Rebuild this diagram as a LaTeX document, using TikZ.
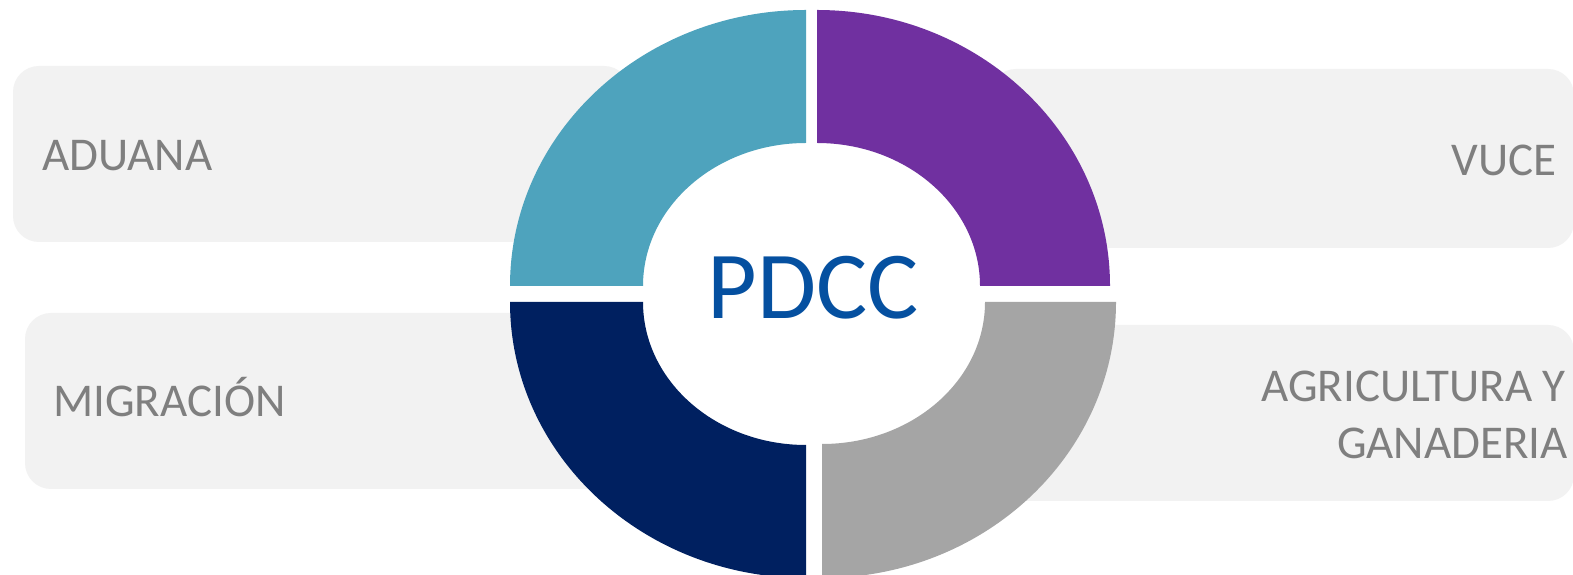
\documentclass[tikz,border=0pt]{standalone}
\usepackage{fontspec}
\setmainfont{Carlito}
\definecolor{qteal}{HTML}{4EA3BD}
\definecolor{qpurple}{HTML}{7030A0}
\definecolor{qnavy}{HTML}{002060}
\definecolor{qgray}{HTML}{A5A5A5}
\definecolor{boxfill}{HTML}{F2F2F2}
\definecolor{labelgray}{HTML}{7F7F7F}
\definecolor{pdccblue}{HTML}{0550A0}
\begin{document}
\begin{tikzpicture}[x=1pt,y=1pt,
  panel/.style={fill=boxfill, rounded corners=26pt},
  lab/.style={text=labelgray, font=\fontsize{47}{56}\selectfont, inner sep=0pt},
]
\clip (0,0) rectangle (1573,575);
\useasboundingbox (0,0) rectangle (1573,575);
\fill[white] (0,0) rectangle (1573,575);
% panels
\path[panel] (13,333) rectangle (630,509);
\path[panel] (990,327) rectangle (1574,506);
\path[panel] (25,86) rectangle (630,262);
\path[panel] (995,74) rectangle (1574,250);
% ring quadrants
\fill[qteal] (806,565) arc[start angle=90, end angle=180, x radius=296, y radius=276]
  -- (643,289) arc[start angle=180, end angle=90, x radius=163, y radius=143] -- cycle;
\fill[qpurple] (817,565) arc[start angle=90, end angle=0, x radius=293, y radius=276]
  -- (980,289) arc[start angle=0, end angle=90, x radius=163, y radius=143] -- cycle;
\fill[qnavy] (806,-3) arc[start angle=270, end angle=180, x radius=296, y radius=276]
  -- (643,273) arc[start angle=180, end angle=270, x radius=163, y radius=143] -- cycle;
\fill[qgray] (822,-3) arc[start angle=270, end angle=360, x radius=294, y radius=276]
  -- (985,273) arc[start angle=0, end angle=-90, x radius=163, y radius=142] -- cycle;
% labels
\node[lab, anchor=base west] (aduana) at (42,404) {ADUANA};
\node[lab, anchor=base east] (vuce) at (1557,399) {VUCE};
\node[lab, anchor=base west] (migr) at (53,158) {MIGRACIÓN};
\node[lab, anchor=base east] (agr1) at (1566,173) {AGRICULTURA Y};
\node[lab, anchor=base east] (agr2) at (1568,116) {GANADERIA};
\node[text=pdccblue, font=\fontsize{96}{110}\selectfont, inner sep=0pt, anchor=base] (pdcc) at (813,256) {PDCC};
\end{tikzpicture}
\end{document}
